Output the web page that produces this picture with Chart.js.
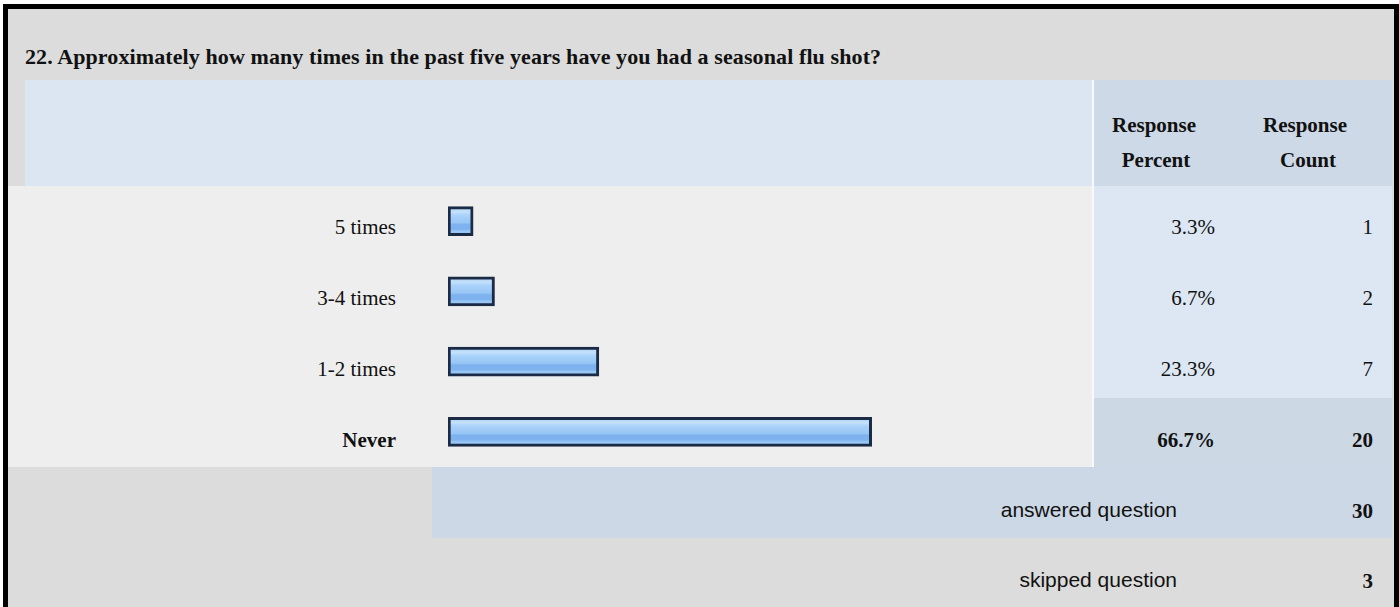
<!DOCTYPE html>
<html>
<head>
<meta charset="utf-8">
<script src="https://cdn.jsdelivr.net/npm/chart.js@4.4.1/dist/chart.umd.min.js"></script>
<style>
  html, body { margin: 0; padding: 0; width: 1399px; height: 607px; overflow: hidden; background: #ffffff; }
  #frame { position: absolute; left: 0; top: 0; width: 1399px; height: 607px; background: #ffffff; }
  .box { position: absolute; }
  .t { position: absolute; white-space: nowrap; line-height: 21px; font-size: 21px; color: #111; }
  .serif { font-family: "Liberation Serif", "Times New Roman", serif; }
  .sans { font-family: "Liberation Sans", Arial, sans-serif; }
  .b { font-weight: bold; }
  .title { font-size: 22px; letter-spacing: 0.1px; }
  #chartWrap { position: absolute; left: 448px; top: 186px; width: 633px; height: 281px; }
</style>
</head>
<body>
<div id="frame"></div>
<div id="chartWrap"><canvas id="c" width="633" height="281"></canvas></div>
<script>
// ---- data ----
const title = "22. Approximately how many times in the past five years have you had a seasonal flu shot?";
const categories = ["5 times", "3-4 times", "1-2 times", "Never"];
const percents = [3.3, 6.7, 23.3, 66.7];
const percentLabels = ["3.3%", "6.7%", "23.3%", "66.7%"];
const counts = [1, 2, 7, 20];
const highlighted = [false, false, false, true];
const headerPercent = ["Response", "Percent"];
const headerCount = ["Response", "Count"];
const answeredLabel = "answered question";
const answeredCount = 30;
const skippedLabel = "skipped question";
const skippedCount = 3;

// ---- layout of the surrounding table ----
const frame = document.getElementById('frame');
function rect(x, y, w, h, color) {
  const d = document.createElement('div');
  d.className = 'box';
  d.style.left = x + 'px'; d.style.top = y + 'px';
  d.style.width = w + 'px'; d.style.height = h + 'px';
  d.style.background = color;
  frame.appendChild(d);
  return d;
}
// place text so its baseline is at y; align: left/right/center at x
function text(str, x, baseline, align, cls) {
  const d = document.createElement('div');
  d.className = 't ' + cls;
  d.textContent = str;
  const isSans = cls.indexOf('sans') >= 0;
  const top = baseline - (isSans ? 17.8 : 15.8);
  d.style.top = top + 'px';
  if (align === 'left') { d.style.left = x + 'px'; }
  else if (align === 'right') { d.style.right = (1399 - x) + 'px'; }
  else { d.style.left = (x - 200) + 'px'; d.style.width = '400px'; d.style.textAlign = 'center'; }
  frame.appendChild(d);
  return d;
}

const rowTops = [186, 257, 328, 398, 467];
const baselines = [233, 304, 375, 446];

// outer background
rect(4, 4, 1394, 603, '#dcdcdc');
// header row
rect(25, 80, 1067, 106, '#dce6f2');
rect(1094, 80, 298, 106, '#cdd9e6');
// data rows
rect(8, 186, 1084, 281, '#eeeeee');
for (let i = 0; i < categories.length; i++) {
  rect(1094, rowTops[i], 298, rowTops[i + 1] - rowTops[i], highlighted[i] ? '#cdd8e5' : '#dde7f3');
}
// separator between chart area and numeric columns
rect(1092, 80, 2, 387, '#f7f9fc');
// answered row
rect(432, 467, 960, 71, '#ccd8e5');
// black frame lines
rect(3, 4, 1396, 5, '#000000');
rect(3, 4, 5, 603, '#000000');
rect(1394, 4, 5, 603, '#000000');

// texts
text(title, 25, 62, 'left', 'serif b title');
text(headerPercent[0], 1154, 131, 'center', 'serif b');
text(headerPercent[1], 1156, 166, 'center', 'serif b');
text(headerCount[0], 1305, 131, 'center', 'serif b');
text(headerCount[1], 1308, 166, 'center', 'serif b');
for (let i = 0; i < categories.length; i++) {
  const cls = highlighted[i] ? 'serif b' : 'serif';
  text(categories[i], 396, baselines[i], 'right', cls);
  text(percentLabels[i], 1215, baselines[i], 'right', cls);
  text(String(counts[i]), 1373, baselines[i], 'right', cls);
}
text(answeredLabel, 1177, 517, 'right', 'sans');
text(String(answeredCount), 1373, 517, 'right', 'serif b');
text(skippedLabel, 1177, 587, 'right', 'sans');
text(String(skippedCount), 1373, 587, 'right', 'serif b');

// ---- chart ----
const barThickness = 29;
function barGradient(context) {
  const chart = context.chart;
  if (!chart.chartArea) return '#9ccaf6';
  const yScale = chart.scales.y;
  const cy = yScale.getPixelForValue(context.dataIndex);
  const top = cy - barThickness / 2, bottom = cy + barThickness / 2;
  const g = chart.ctx.createLinearGradient(0, top, 0, bottom);
  g.addColorStop(0.0, '#a6cdf4');
  g.addColorStop(0.18, '#c4e1fb');
  g.addColorStop(0.30, '#a9d2fa');
  g.addColorStop(0.55, '#98c6f5');
  g.addColorStop(0.62, '#7eb2ee');
  g.addColorStop(0.78, '#7fb3ef');
  g.addColorStop(0.85, '#9ac8f6');
  g.addColorStop(1.0, '#8fbff2');
  return g;
}

new Chart(document.getElementById('c'), {
  type: 'bar',
  data: {
    labels: categories,
    datasets: [{
      data: percents,
      base: -0.7,
      backgroundColor: barGradient,
      borderColor: '#1b2b46',
      borderWidth: 3,
      borderSkipped: false,
      barThickness: barThickness
    }]
  },
  options: {
    indexAxis: 'y',
    responsive: false,
    animation: false,
    devicePixelRatio: 1,
    layout: { padding: 0 },
    plugins: { legend: { display: false }, tooltip: { enabled: false } },
    scales: {
      x: { display: false, min: -0.7, max: 100 },
      y: { display: false }
    }
  }
});
</script>
</body>
</html>
